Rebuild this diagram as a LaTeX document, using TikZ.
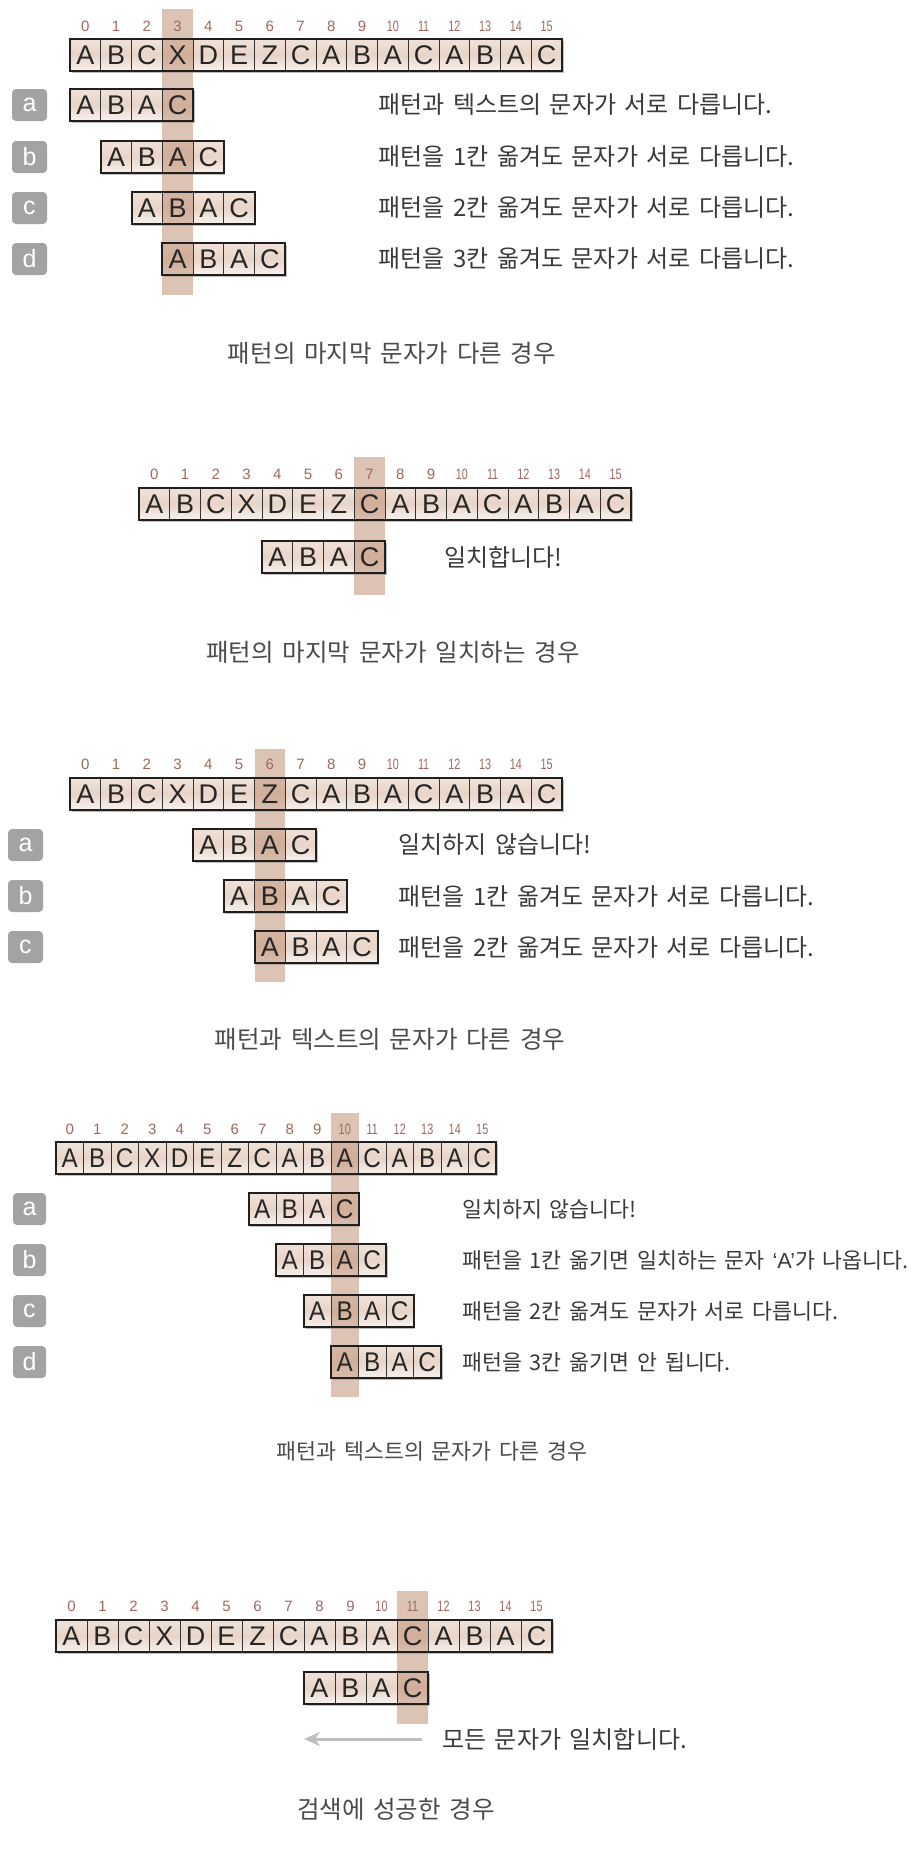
\documentclass[tikz,border=0pt]{standalone}
\usepackage{fontspec}
\usepackage{graphicx}
\setmainfont{Liberation Sans}
\newfontfamily\kr{Noto Sans CJK KR}[WordSpace=1.6]
\newfontfamily\latf{Liberation Sans}
\usetikzlibrary{arrows.meta}
\definecolor{hlbase}{RGB}{187,137,107}
\definecolor{celltop}{RGB}{240,226,217}
\definecolor{cellmid}{RGB}{232,212,200}
\definecolor{cellbot}{RGB}{248,242,238}
\definecolor{digitc}{RGB}{160,104,94}
\definecolor{labgray}{RGB}{163,163,163}
\definecolor{txtc}{RGB}{58,58,58}
\definecolor{capc}{RGB}{75,75,75}
\definecolor{arrc}{RGB}{190,190,190}
\tikzset{
 cellshade/.style={top color=celltop, bottom color=cellbot, middle color=cellmid},
 boxshadow/.style={fill=black!25},
 hlband/.style={fill=hlbase, fill opacity=.5},
 outerbox/.style={draw=black!88, line width=2pt},
 divider/.style={draw=black!80, line width=0.9pt},
 letter/.style={inner sep=0pt, text=black!85, font=\fontsize{27}{27}\selectfont},
 digit/.style={inner sep=0pt, text=digitc, font=\fontsize{15}{15}\selectfont},
 lab/.style={fill=labgray, rounded corners=4pt, minimum width=35pt, minimum height=32pt, inner sep=0pt, text=white, font=\fontsize{25}{25}\selectfont},
 desc/.style={anchor=west, inner sep=0pt, text=txtc, font=\kr\fontsize{24}{28}\selectfont},
 descs/.style={anchor=west, inner sep=0pt, text=txtc, font=\kr\fontsize{21.7}{26}\selectfont},
 captxt/.style={inner sep=0pt, text=capc, font=\kr\fontsize{24.5}{28}\selectfont},
 captxts/.style={inner sep=0pt, text=capc, font=\kr\fontsize{21.7}{26}\selectfont},
 arr/.style={draw=arrc, line width=3pt, -{Stealth[length=16pt,width=14pt]}},
}
\def\lsc{1}
% #1 x0, #2 ytop, #3 w, #4 n
\newcommand\boxfill[4]{%
 \fill[boxshadow] ({#1+1.5},{#2+1.5}) rectangle ({#1+#3*#4+1.5},{#2+33.5});
 \shade[cellshade] (#1,#2) rectangle ({#1+#3*#4},{#2+32});
}
% #1 x, #2 ytop, #3 w, #4 ybottom
\newcommand\hlcol[4]{\fill[hlband] ({#1},{#2}) rectangle ({#1+#3},{#4});}
% #1 name, #2 x0, #3 ytop, #4 w, #5 n, #6 letters (macro)
\newcommand\boxdraw[6]{%
 \pgfmathtruncatemacro\nm{#5-1}%
 \foreach \k in {1,...,\nm}{\draw[divider] ({#2+\k*#4},#3) -- ({#2+\k*#4},{#3+32});}
 \draw[outerbox] (#2,#3) rectangle ({#2+#4*#5},{#3+32});
 \foreach \c [count=\k from 0] in #6 {\node[letter] (#1-\k) at ({#2+(\k+0.5)*#4},{#3+16}) {\scalebox{\lsc}[1]{\c}};}
}
% #1 name, #2 x0, #3 y, #4 w
\newcommand\digitrow[4]{%
 \foreach \k in {0,...,15}{\node[digit] (#1-\k) at ({#2+(\k+0.5)*#4},{#3}) {\ifnum\k>9 \scalebox{.72}[1]{\k}\else\k\fi};}
}
\def\txt{A,B,C,X,D,E,Z,C,A,B,A,C,A,B,A,C}
\def\pat{A,B,A,C}
\begin{document}
\begin{tikzpicture}[x=1pt,y=-1pt]
\useasboundingbox (0,0) rectangle (916,1856);
\fill[white] (0,0) rectangle (916,1856);

% ===== Section 1 =====
\boxfill{70}{39}{30.75}{16}
\boxfill{70}{89}{30.75}{4}
\boxfill{100.75}{141}{30.75}{4}
\boxfill{131.5}{192}{30.75}{4}
\boxfill{162.25}{243}{30.75}{4}
\hlcol{162.25}{9}{30.75}{295}
\boxdraw{s1t}{70}{39}{30.75}{16}{\txt}
\boxdraw{s1a}{70}{89}{30.75}{4}{\pat}
\boxdraw{s1b}{100.75}{141}{30.75}{4}{\pat}
\boxdraw{s1c}{131.5}{192}{30.75}{4}{\pat}
\boxdraw{s1d}{162.25}{243}{30.75}{4}{\pat}
\digitrow{s1n}{70}{26}{30.75}
\node[lab] (s1la) at (29.5,105) {a};
\node[lab] (s1lb) at (29.5,157) {b};
\node[lab] (s1lc) at (29.5,208) {c};
\node[lab] (s1ld) at (29.5,259) {d};
\node[desc] (s1ta) at (378,105) {패턴과 텍스트의 문자가 서로 다릅니다.};
\node[desc] (s1tb) at (378,157) {패턴을 1칸 옮겨도 문자가 서로 다릅니다.};
\node[desc] (s1tc) at (378,208) {패턴을 2칸 옮겨도 문자가 서로 다릅니다.};
\node[desc] (s1td) at (378,259) {패턴을 3칸 옮겨도 문자가 서로 다릅니다.};
\node[captxt] (cap1) at (392,353) {패턴의 마지막 문자가 다른 경우};

% ===== Section 2 =====
\boxfill{139}{488}{30.75}{16}
\boxfill{262}{541}{30.75}{4}
\hlcol{354.25}{457}{30.75}{595}
\boxdraw{s2t}{139}{488}{30.75}{16}{\txt}
\boxdraw{s2a}{262}{541}{30.75}{4}{\pat}
\digitrow{s2n}{139}{474}{30.75}
\node[desc] (s2ta) at (444,557) {일치합니다!};
\node[captxt] (cap2) at (393,652) {패턴의 마지막 문자가 일치하는 경우};

% ===== Section 3 =====
\boxfill{70}{778}{30.75}{16}
\boxfill{193}{829}{30.75}{4}
\boxfill{223.75}{880}{30.75}{4}
\boxfill{254.5}{931}{30.75}{4}
\hlcol{254.5}{749}{30.75}{982}
\boxdraw{s3t}{70}{778}{30.75}{16}{\txt}
\boxdraw{s3a}{193}{829}{30.75}{4}{\pat}
\boxdraw{s3b}{223.75}{880}{30.75}{4}{\pat}
\boxdraw{s3c}{254.5}{931}{30.75}{4}{\pat}
\digitrow{s3n}{70}{764}{30.75}
\node[lab] (s3la) at (25.5,845) {a};
\node[lab] (s3lb) at (25.5,896) {b};
\node[lab] (s3lc) at (25.5,947) {c};
\node[desc] (s3ta) at (398,845) {일치하지 않습니다!};
\node[desc] (s3tb) at (398,896) {패턴을 1칸 옮겨도 문자가 서로 다릅니다.};
\node[desc] (s3tc) at (398,947) {패턴을 2칸 옮겨도 문자가 서로 다릅니다.};
\node[captxt] (cap3) at (390,1039) {패턴과 텍스트의 문자가 다른 경우};

% ===== Section 4 =====
\def\lsc{0.9}
\boxfill{56}{1142}{27.5}{16}
\boxfill{248.5}{1193}{27.5}{4}
\boxfill{276}{1244}{27.5}{4}
\boxfill{303.5}{1295}{27.5}{4}
\boxfill{331}{1346}{27.5}{4}
\hlcol{331}{1113}{27.5}{1397}
\boxdraw{s4t}{56}{1142}{27.5}{16}{\txt}
\boxdraw{s4a}{248.5}{1193}{27.5}{4}{\pat}
\boxdraw{s4b}{276}{1244}{27.5}{4}{\pat}
\boxdraw{s4c}{303.5}{1295}{27.5}{4}{\pat}
\boxdraw{s4d}{331}{1346}{27.5}{4}{\pat}
\digitrow{s4n}{56}{1129}{27.5}
\node[lab, minimum width=33pt] (s4la) at (29.5,1209) {a};
\node[lab, minimum width=33pt] (s4lb) at (29.5,1260) {b};
\node[lab, minimum width=33pt] (s4lc) at (29.5,1311) {c};
\node[lab, minimum width=33pt] (s4ld) at (29.5,1362) {d};
\node[descs] (s4ta) at (462,1209) {일치하지 않습니다!};
\node[descs] (s4tb) at (462,1260) {패턴을 1칸 옮기면 일치하는 문자 {\latf ‘A’}가 나옵니다.};
\node[descs] (s4tc) at (462,1311) {패턴을 2칸 옮겨도 문자가 서로 다릅니다.};
\node[descs] (s4td) at (462,1362) {패턴을 3칸 옮기면 안 됩니다.};
\node[captxts] (cap4) at (432,1451) {패턴과 텍스트의 문자가 다른 경우};

% ===== Section 5 =====
\def\lsc{1}
\boxfill{56}{1620}{31}{16}
\boxfill{304}{1672}{31}{4}
\hlcol{397}{1591}{31}{1724}
\boxdraw{s5t}{56}{1620}{31}{16}{\txt}
\boxdraw{s5a}{304}{1672}{31}{4}{\pat}
\digitrow{s5n}{56}{1606}{31}
\node[desc] (s5ta) at (442,1739) {모든 문자가 일치합니다.};
\coordinate (arrE) at (304,1739);
\draw[arr] ([xshift=-20pt]s5ta.west) -- (arrE);
\node[captxt] (cap5) at (396,1809) {검색에 성공한 경우};
\end{tikzpicture}
\end{document}
